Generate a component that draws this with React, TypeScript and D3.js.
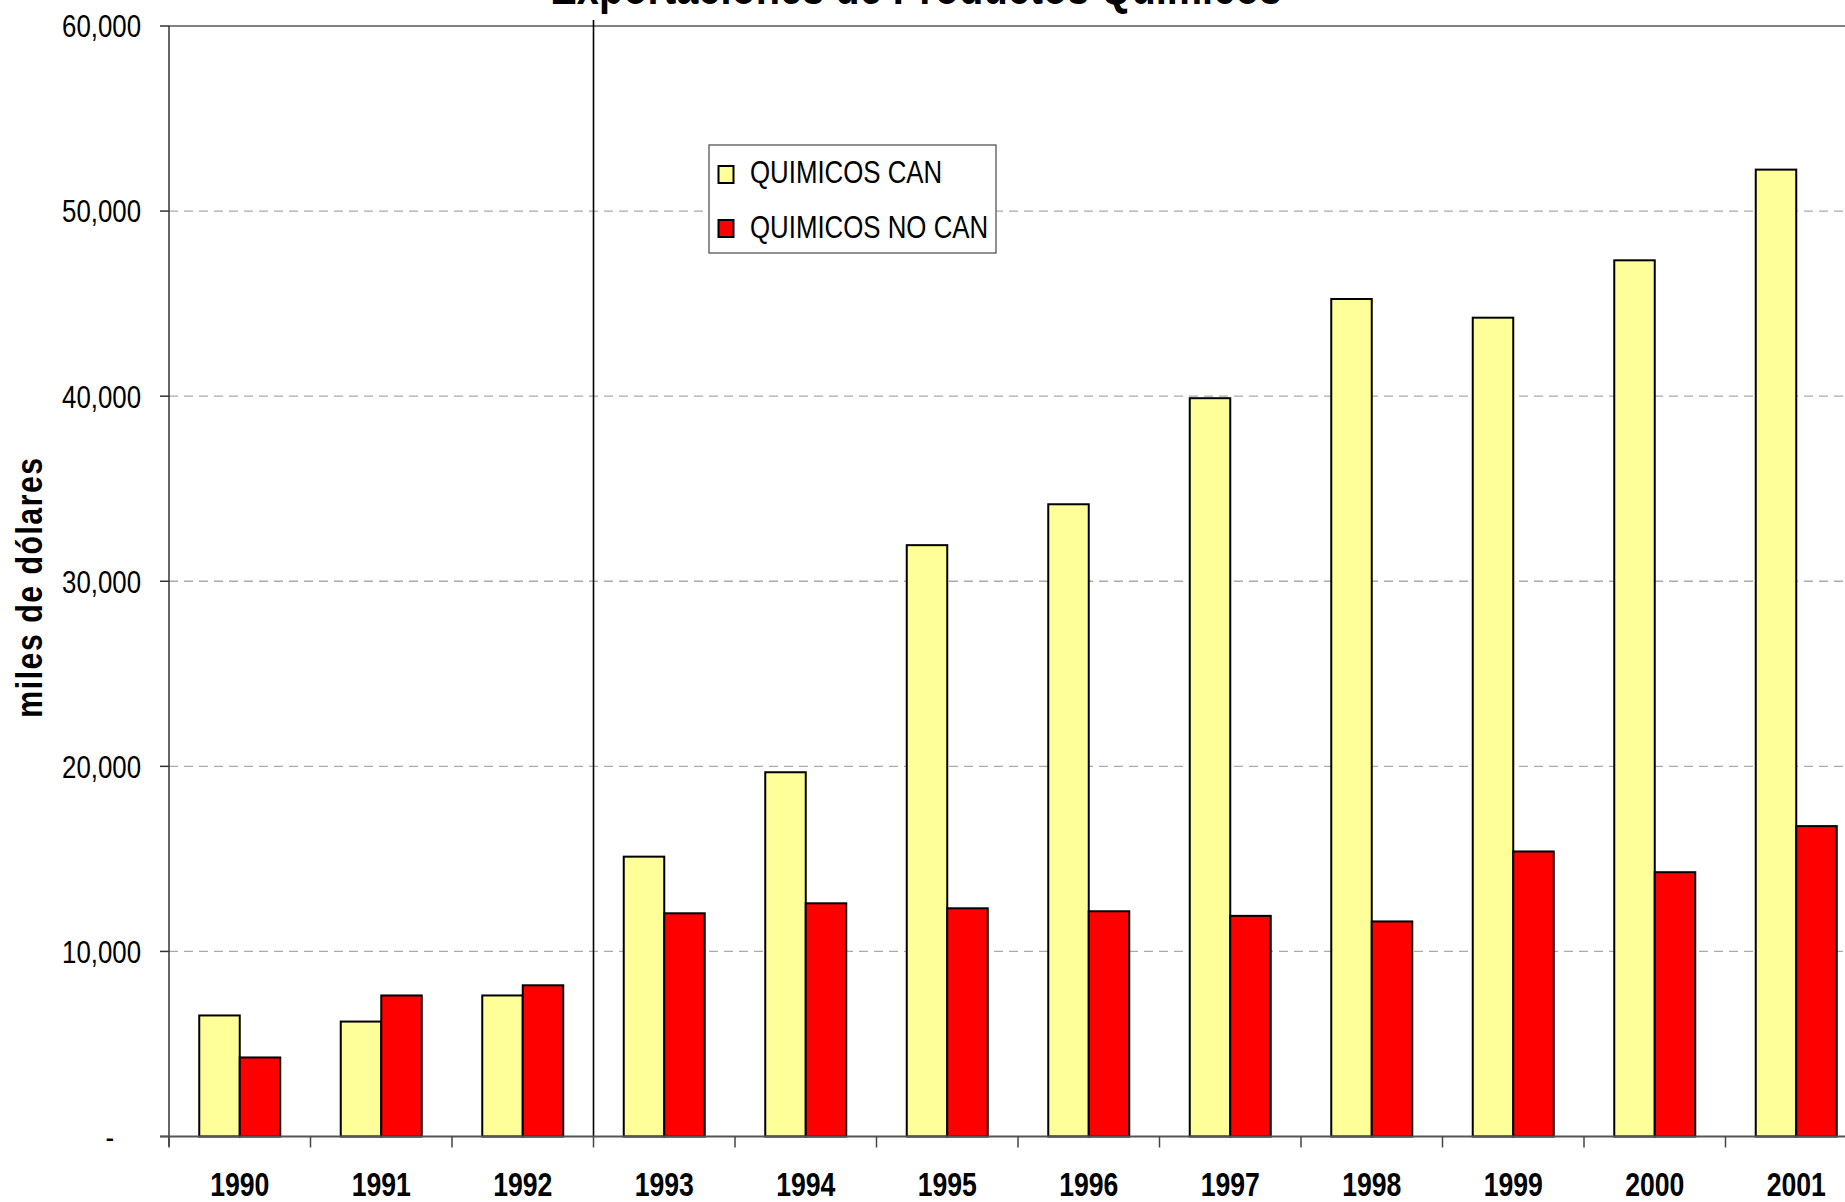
import React from "react";
import * as d3 from "d3";

const years = ["1990", "1991", "1992", "1993", "1994", "1995", "1996", "1997", "1998", "1999", "2000", "2001"];
const seriesNames = ["QUIMICOS CAN", "QUIMICOS NO CAN"];
const quimicosCan = [6540, 6210, 7620, 15120, 19680, 31950, 34160, 39890, 45250, 44240, 47340, 52240];
const quimicosNoCan = [4270, 7620, 8170, 12060, 12600, 12330, 12170, 11920, 11620, 15400, 14280, 16770];
const yTicks = [0, 10000, 20000, 30000, 40000, 50000, 60000];
const titleText = "Exportaciones de Productos Químicos";
const yLabel = "miles de dólares";

const W = 1845;
const H = 1202;
const FONT = "'Liberation Sans', Arial, sans-serif";
const SX = 0.82; // narrow-font emulation
const colors = ["#FFFF99", "#FF0000"];

type NTProps = {
  x: number;
  y: number;
  size: number;
  bold?: boolean;
  anchor?: "start" | "middle" | "end";
  rotate?: number;
  dy?: string;
  letterSpacing?: number;
  children: React.ReactNode;
};

function NText({ x, y, size, bold, anchor = "start", rotate = 0, dy, letterSpacing, children }: NTProps) {
  return (
    <text
      transform={`translate(${x},${y}) rotate(${rotate}) scale(${SX},1)`}
      textAnchor={anchor}
      dy={dy}
      fontFamily={FONT}
      fontWeight={bold ? "bold" : "normal"}
      fontSize={size}
      letterSpacing={letterSpacing}
      fill="#000"
    >
      {children}
    </text>
  );
}

export default function App() {
  const left = 169;
  const step = 141.5;
  const top = 26;
  const bottom = 1136.5;

  const x = d3.scaleBand<string>().domain(years).range([left, left + step * years.length]).padding(0);
  const x1 = d3.scaleBand<string>().domain(seriesNames).range([30.25, step - 30.25]).padding(0);
  const y = d3.scaleLinear().domain([0, 60000]).range([bottom, top]);
  const fmt = d3.format(",");
  const values = [quimicosCan, quimicosNoCan];

  const boundaries = d3.range(years.length + 1).map((i) => left + i * x.step());
  const divider = x("1993")!;

  return (
    <svg width={W} height={H} style={{ position: "absolute", left: 0, top: 0, background: "#fff" }}>
      <rect x={0} y={0} width={W} height={H} fill="#fff" />
      {/* title (clipped at top as in reference) */}
      <NText x={916} y={4} size={48.5} bold anchor="middle">
        {titleText}
      </NText>

      {/* gridlines */}
      {yTicks.filter((t) => t > 0 && t < 60000).map((t) => (
        <line key={"g" + t} x1={left} x2={W} y1={y(t)} y2={y(t)} stroke="#aaaaaa" strokeWidth={1.3} strokeDasharray="9,6" />
      ))}
      <line x1={left} x2={W} y1={y(60000)} y2={y(60000)} stroke="#808080" strokeWidth={2.2} />

      {/* y axis */}
      <line x1={left} x2={left} y1={top} y2={bottom + 10} stroke="#333" strokeWidth={1.5} />
      {yTicks.map((t) => (
        <g key={"t" + t}>
          <line x1={left - 9} x2={left} y1={y(t)} y2={y(t)} stroke="#333" strokeWidth={1.5} />
          <NText x={t === 0 ? 114 : 141} y={y(t)} dy="0.36em" size={31.5} anchor="end">
            {t === 0 ? "-" : fmt(t)}
          </NText>
        </g>
      ))}

      {/* divider line */}
      <line x1={divider} x2={divider} y1={20} y2={bottom} stroke="#000" strokeWidth={1.6} />

      {/* bars */}
      {years.map((yr, i) => (
        <g key={yr} transform={`translate(${x(yr)},0)`}>
          {seriesNames.map((s, k) => (
            <rect
              key={s}
              x={x1(s)}
              y={y(values[k][i])}
              width={x1.bandwidth()}
              height={bottom - y(values[k][i])}
              fill={colors[k]}
              stroke="#000"
              strokeWidth={2}
            />
          ))}
        </g>
      ))}

      {/* x axis */}
      <line x1={left - 9} x2={W} y1={bottom} y2={bottom} stroke="#555" strokeWidth={2} />
      {boundaries.map((b, i) => (
        <line key={"xb" + i} x1={b} x2={b} y1={bottom} y2={bottom + 11} stroke="#444" strokeWidth={1.5} />
      ))}
      {years.map((yr) => (
        <NText key={"l" + yr} x={x(yr)! + x.bandwidth() / 2} y={1196} size={32.5} bold anchor="middle">
          {yr}
        </NText>
      ))}

      {/* y label */}
      <NText x={41.5} y={587} size={37} bold anchor="middle" rotate={-90} letterSpacing={1.8}>
        {yLabel}
      </NText>

      {/* legend */}
      <g>
        <rect x={709} y={145} width={287} height={108} fill="#fff" stroke="#555" strokeWidth={1.3} />
        {seriesNames.map((s, k) => (
          <g key={"lg" + s}>
            <rect x={718.5} y={166 + k * 54} width={15} height={17} fill={colors[k]} stroke="#000" strokeWidth={2} />
            <NText x={750} y={183 + k * 55} size={31.5}>
              {s}
            </NText>
          </g>
        ))}
      </g>
    </svg>
  );
}
